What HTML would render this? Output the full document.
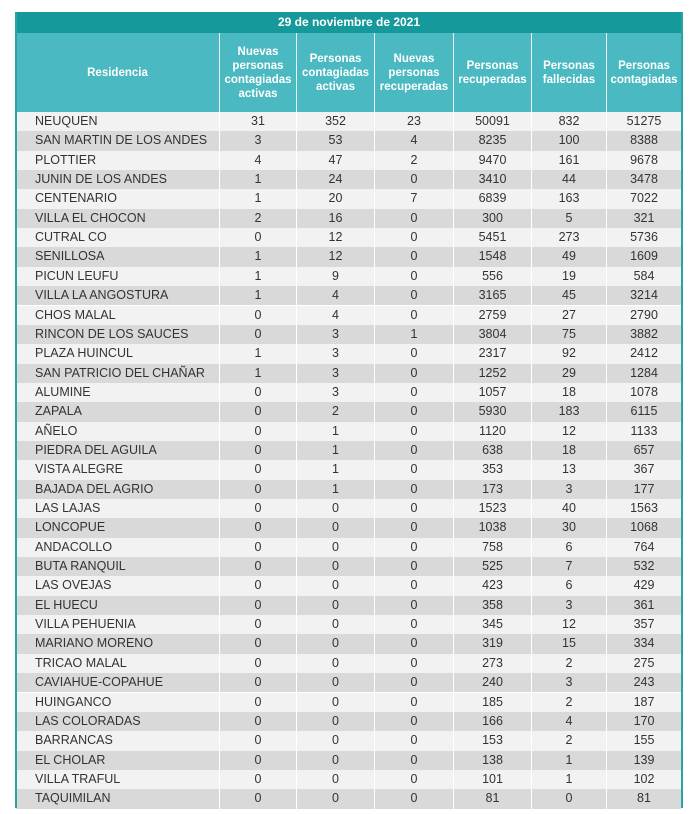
<!DOCTYPE html>
<html><head><meta charset="utf-8"><style>
body{margin:0;width:696px;height:814px;background:#fff;font-family:"Liberation Sans",sans-serif;position:relative;overflow:hidden}
.a{position:absolute;box-sizing:border-box}
.title{left:16px;top:12px;width:666px;height:21px;background:#16999b;color:#fff;font-weight:bold;font-size:12px;text-align:center;line-height:21px}
.h{top:33px;height:79px;background:#4bb9c1;color:#fff;font-weight:bold;font-size:11.5px;display:flex;align-items:center;justify-content:center;text-align:center;line-height:14px;border-right:1px solid #e8f6f7}
.c{font-size:12.5px;color:#333;border-right:1px solid #fff}
</style></head><body>
<div class="a title">29 de noviembre de 2021</div>
<div id="t"></div>
<div class="a" style="left:15px;top:12px;width:2px;height:796px;background:#2aa3a5"></div>
<div class="a" style="left:681px;top:12px;width:2px;height:796px;background:#2aa3a5"></div>
<script>
const headers=["Residencia","Nuevas<br>personas<br>contagiadas<br>activas","Personas<br>contagiadas<br>activas","Nuevas<br>personas<br>recuperadas","Personas<br>recuperadas","Personas<br>fallecidas","Personas<br>contagiadas"];
const colX=[16,220,297,375,454,532,607,682];
const names=["NEUQUEN","SAN MARTIN DE LOS ANDES","PLOTTIER","JUNIN DE LOS ANDES","CENTENARIO","VILLA EL CHOCON","CUTRAL CO","SENILLOSA","PICUN LEUFU","VILLA LA ANGOSTURA","CHOS MALAL","RINCON DE LOS SAUCES","PLAZA HUINCUL","SAN PATRICIO DEL CHAÑAR","ALUMINE","ZAPALA","AÑELO","PIEDRA DEL AGUILA","VISTA ALEGRE","BAJADA DEL AGRIO","LAS LAJAS","LONCOPUE","ANDACOLLO","BUTA RANQUIL","LAS OVEJAS","EL HUECU","VILLA PEHUENIA","MARIANO MORENO","TRICAO MALAL","CAVIAHUE-COPAHUE","HUINGANCO","LAS COLORADAS","BARRANCAS","EL CHOLAR","VILLA TRAFUL","TAQUIMILAN"];
const nuevasAct=[31,3,4,1,1,2,0,1,1,1,0,0,1,1,0,0,0,0,0,0,0,0,0,0,0,0,0,0,0,0,0,0,0,0,0,0];
const activas=[352,53,47,24,20,16,12,12,9,4,4,3,3,3,3,2,1,1,1,1,0,0,0,0,0,0,0,0,0,0,0,0,0,0,0,0];
const nuevasRec=[23,4,2,0,7,0,0,0,0,0,0,1,0,0,0,0,0,0,0,0,0,0,0,0,0,0,0,0,0,0,0,0,0,0,0,0];
const recuperadas=[50091,8235,9470,3410,6839,300,5451,1548,556,3165,2759,3804,2317,1252,1057,5930,1120,638,353,173,1523,1038,758,525,423,358,345,319,273,240,185,166,153,138,101,81];
const fallecidas=[832,100,161,44,163,5,273,49,19,45,27,75,92,29,18,183,12,18,13,3,40,30,6,7,6,3,12,15,2,3,2,4,2,1,1,0];
const contagiadas=[51275,8388,9678,3478,7022,321,5736,1609,584,3214,2790,3882,2412,1284,1078,6115,1133,657,367,177,1563,1068,764,532,429,361,357,334,275,243,187,170,155,139,102,81];
const t=document.getElementById('t');
const slugs=["residencia","nuevas-contagiadas","contagiadas-activas","nuevas-recuperadas","recuperadas","fallecidas","contagiadas"];
headers.forEach((h,i)=>{const d=document.createElement('div');d.className='a h';


d.style.left=colX[i]+'px';d.style.width=(colX[i+1]-colX[i])+'px';d.innerHTML=h;t.appendChild(d);});
const cols=[names,nuevasAct,activas,nuevasRec,recuperadas,fallecidas,contagiadas];
const top0=112,rh=19.35;
names.forEach((n,r)=>{
 const row=document.createElement('div');row.className='a';
 
 
 row.style.cssText=`left:16px;top:${top0+r*rh}px;width:666px;height:${rh}px;background:${r%2?'#d9d9d9':'#f2f2f2'}`;
 t.appendChild(row);
 cols.forEach((c,i)=>{const d=document.createElement('div');d.className='a c';
  
  
  d.style.left=(colX[i]-16)+'px';d.style.width=(colX[i+1]-colX[i])+'px';d.style.height=rh+'px';d.style.top='0';
  d.style.textAlign=i?'center':'left';if(!i)d.style.paddingLeft='19px';
  d.style.lineHeight=rh+'px';d.textContent=c[r];row.appendChild(d);});
});
</script>
</body></html>
